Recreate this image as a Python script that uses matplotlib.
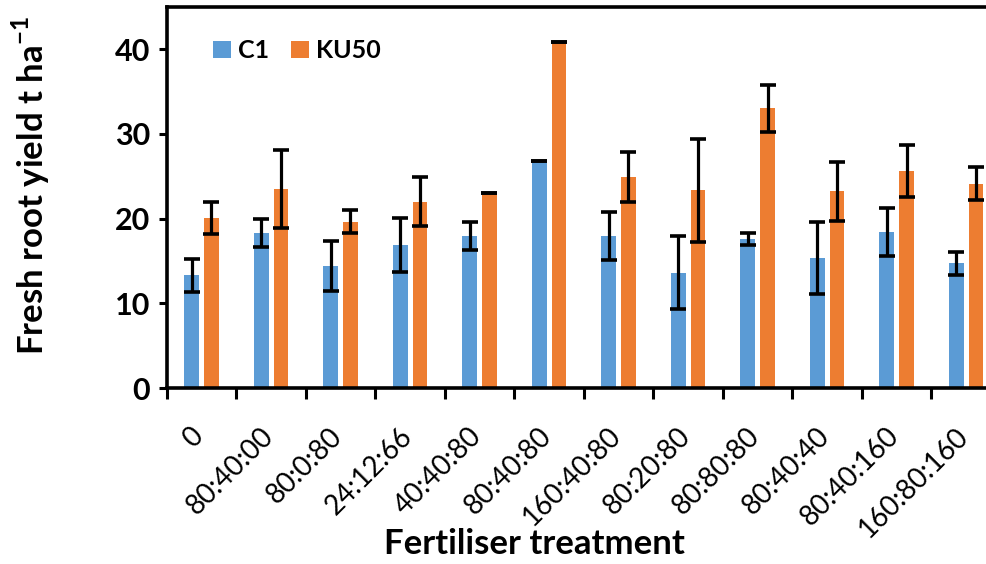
import numpy as np
import matplotlib
matplotlib.use('Agg')
import matplotlib.pyplot as plt
import matplotlib.transforms as mtransforms

plt.rcParams['font.family'] = ['Lato', 'DejaVu Sans']
plt.rcParams['mathtext.fontset'] = 'custom'
plt.rcParams['mathtext.rm'] = 'Lato'
plt.rcParams['mathtext.bf'] = 'Lato:bold'

# ── Fresh root yield by fertiliser treatment (t/ha) ─────────────────────────
treatments = ['0', '80:40:00', '80:0:80', '24:12:66', '40:40:80', '80:40:80',
              '160:40:80', '80:20:80', '80:80:80', '80:40:40', '80:40:160',
              '160:80:160']
c1_mean = [13.3, 18.3, 14.4, 16.9, 17.95, 26.85, 17.95, 13.6, 17.6, 15.35, 18.4, 14.7]
c1_err = [1.95, 1.7, 2.9, 3.2, 1.65, 0.0, 2.85, 4.3, 0.7, 4.2, 2.8, 1.4]
ku50_mean = [20.1, 23.5, 19.65, 22.0, 23.0, 40.9, 24.9, 23.35, 33.0, 23.2, 25.6, 24.1]
ku50_err = [1.9, 4.6, 1.4, 2.85, 0.0, 0.0, 2.9, 6.1, 2.8, 3.5, 3.1, 1.95]

BLUE = '#5B9BD5'
ORANGE = '#ED7D31'

fig = plt.figure(figsize=(9.87, 5.64), dpi=100)
ax = fig.add_axes([0.169, 0.312, 0.845, 0.676])

x = np.arange(len(treatments))
w = 0.215
off = 0.143
err_kw = dict(ecolor='black', elinewidth=2.3, capsize=5.5, capthick=2.6)

ax.bar(x - off, c1_mean, w, color=BLUE, label='C1',
       yerr=c1_err, error_kw=err_kw, zorder=2)
ax.bar(x + off, ku50_mean, w, color=ORANGE, label='KU50',
       yerr=ku50_err, error_kw=err_kw, zorder=2)

ax.set_xlim(-0.5, len(treatments) - 0.5)
ax.set_ylim(0, 45)
ax.set_yticks([0, 10, 20, 30, 40])
ax.tick_params(axis='y', labelsize=22, width=2.2, length=6, pad=6)
for lab in ax.get_yticklabels():
    lab.set_fontweight('bold')

# category labels at centres, tick marks at the boundaries
ax.set_xticks(x)
ax.set_xticklabels(treatments, rotation=45, ha='right', va='top', fontsize=20)
ax.tick_params(axis='x', which='major', length=0, pad=25)
shift = mtransforms.ScaledTranslation(7 / 100, 0, fig.dpi_scale_trans)
for lab in ax.get_xticklabels():
    lab.set_transform(lab.get_transform() + shift)
ax.set_xticks(np.arange(len(treatments) + 1) - 0.5, minor=True)
ax.tick_params(axis='x', which='minor', length=8, width=2.2)

for side in ['left', 'bottom', 'top']:
    ax.spines[side].set_linewidth(2.6)
ax.spines['right'].set_visible(False)

ax.set_ylabel('Fresh root yield t ha$^{\\mathbf{-1}}$', fontsize=25,
              fontweight='bold')
ax.yaxis.set_label_coords(-0.138, 0.53)
fig.text(534 / 987, 0.035, 'Fertiliser treatment', ha='center', va='center',
         fontsize=25, fontweight='bold')

leg = ax.legend(loc='upper left', bbox_to_anchor=(0.028, 0.974), ncol=2,
                frameon=False, fontsize=18, handlelength=0.72, handleheight=0.72,
                handletextpad=0.3, columnspacing=0.85)
for t in leg.get_texts():
    t.set_fontweight('bold')

fig.savefig('out.png', dpi=100)
